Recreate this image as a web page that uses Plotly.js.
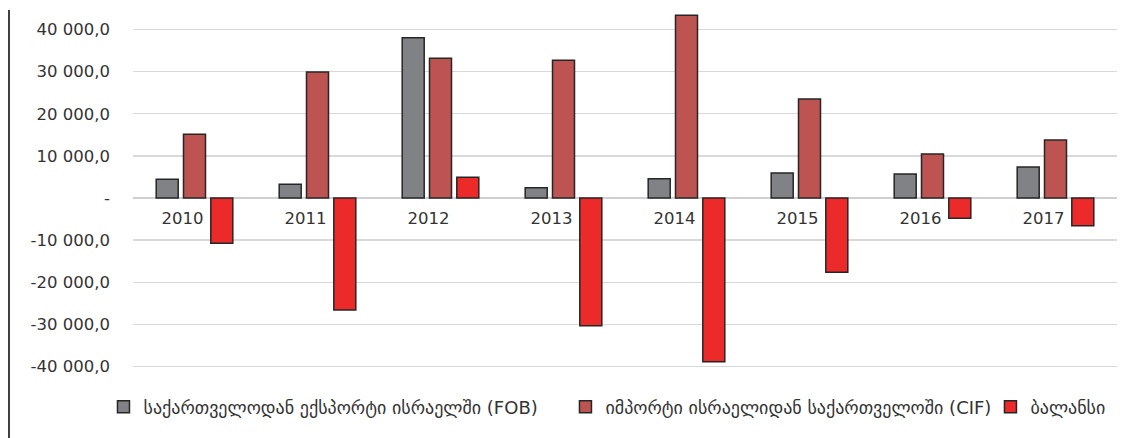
<!DOCTYPE html>
<html>
<head>
<meta charset="utf-8">
<script src="https://cdn.plot.ly/plotly-3.0.1.min.js"></script>
<style>html,body{margin:0;padding:0;background:#fff;}#chart{width:1142px;height:438px;}</style>
</head>
<body>
<div id="chart"></div>
<script>
const years = ['2010','2011','2012','2013','2014','2015','2016','2017'];
const exportFOB = [4440, 3250, 38080, 2450, 4590, 5940, 5700, 7360];
const importCIF = [15130, 29930, 33180, 32700, 43390, 23520, 10450, 13780];
const balance = [-10760, -26600, 4920, -30330, -38880, -17650, -4830, -6570];
const seriesNames = [
  'საქართველოდან ექსპორტი ისრაელში (FOB)',
  'იმპორტი ისრაელიდან საქართველოში (CIF)',
  'ბალანსი'
];
const tickVals = [-40000,-30000,-20000,-10000,0,10000,20000,30000,40000];
const tickText = ['-40 000,0','-30 000,0','-20 000,0','-10 000,0','-','10 000,0','20 000,0','30 000,0','40 000,0'];

const yMin = -43230, yMax = 44656;
const outline = {color:'#262626', width:1.5};
const traces = [
  {type:'bar', x:years, y:exportFOB, name:seriesNames[0], legend:'legend', marker:{color:'#808285', line:outline}},
  {type:'bar', x:years, y:importCIF, name:seriesNames[1], legend:'legend2', marker:{color:'#BE5452', line:outline}},
  {type:'bar', x:years, y:balance, name:seriesNames[2], legend:'legend3', marker:{color:'#EC2A2A', line:outline}}
];
const font = 'DejaVu Sans, sans-serif';
const legFont = {family:font, size:18, color:'#333'};
function leg(x){
  return {orientation:'h', x:x, xanchor:'left', y:-0.073, yanchor:'middle',
          font:legFont, itemwidth:30, bgcolor:'rgba(0,0,0,0)'};
}
const layout = {
  width:1142, height:438,
  margin:{l:133, r:25, t:10, b:58},
  paper_bgcolor:'#fff', plot_bgcolor:'#fff',
  barmode:'group', bargap:0.334, bargroupgap:0.194,
  showlegend:true,
  legend:leg(-0.03),
  legend2:leg(0.4395),
  legend3:leg(0.8714),
  xaxis:{type:'category', anchor:'free', position:(0-yMin)/(yMax-yMin),
         showline:false, showgrid:false, zeroline:false, ticks:'',
         tickfont:{family:font, size:16.5, color:'#333'}, ticklabelshift:-12, ticklabelstandoff:8},
  yaxis:{range:[yMin,yMax], tickvals:tickVals, ticktext:tickText,
         showgrid:true, gridcolor:'#d9d9d9', gridwidth:1.3,
         zeroline:true, zerolinecolor:'#d0d0d0', zerolinewidth:1.8,
         showline:false, ticks:'', ticklabelstandoff:22,
         tickfont:{family:font, size:16.5, color:'#333'}},
  shapes:[{type:'line', xref:'paper', yref:'paper', x0:(9-133)/984, x1:(9-133)/984, y0:1, y1:-0.16,
           line:{color:'#404040', width:2}}],
  hovermode:false
};
Plotly.newPlot('chart', traces, layout, {staticPlot:true});
</script>
</body>
</html>
